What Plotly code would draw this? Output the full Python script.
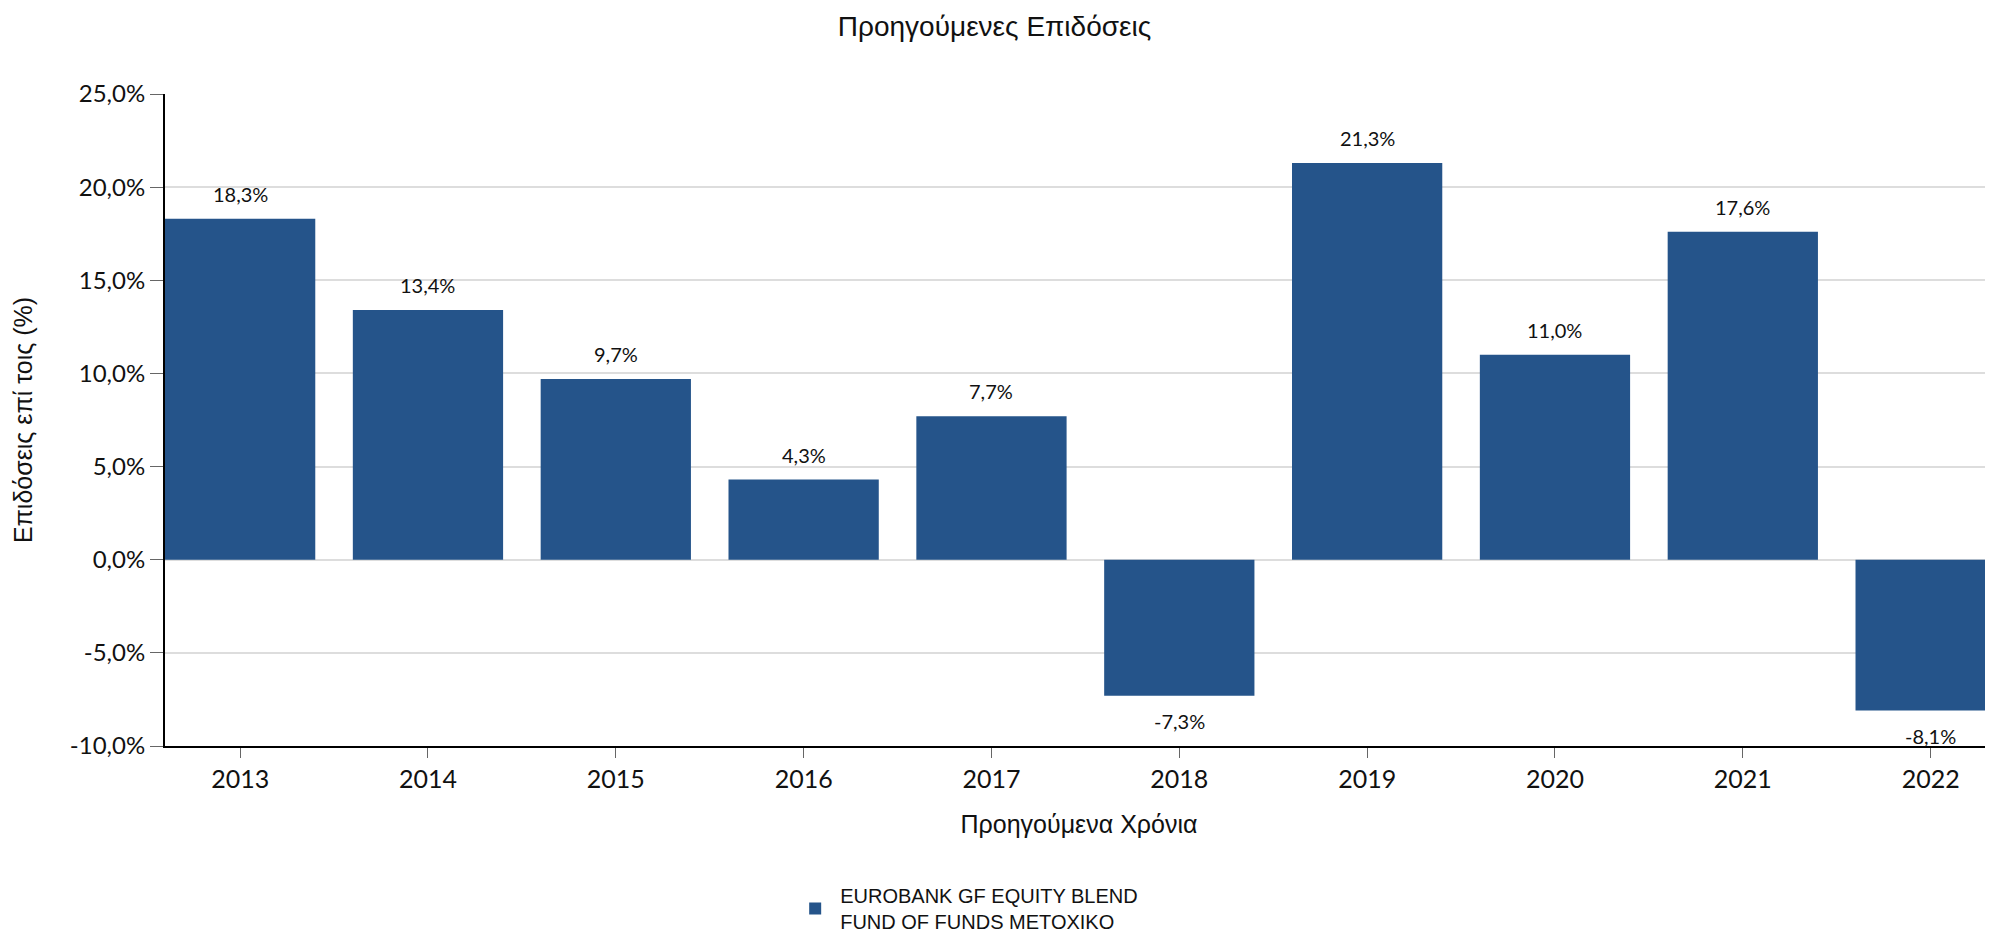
import plotly.graph_objects as go

years = ["2013", "2014", "2015", "2016", "2017", "2018", "2019", "2020", "2021", "2022"]
returns = [18.3, 13.4, 9.7, 4.3, 7.7, -7.3, 21.3, 11.0, 17.6, -8.1]
series_name = "EUROBANK GF EQUITY BLEND<br>FUND OF FUNDS METOXIKO"
title_text = "Προηγούμενες Επιδόσεις"
x_title = "Προηγούμενα Χρόνια"
y_title = "Επιδόσεις επί τοις (%)"
y_ticks = [-10, -5, 0, 5, 10, 15, 20, 25]


def pct(v):
    return f"{v:.1f}%".replace(".", ",")


BAR = "#25548A"
LBL_FONT = "Lato, 'Open Sans', sans-serif"
TXT_FONT = "'Liberation Sans', Arial, sans-serif"

# the page body adds an 8px offset; figure is sized to fit the window
W, H = 1985, 926

fig = go.Figure()
fig.add_trace(go.Bar(
    x=years, y=returns, name=series_name,
    marker=dict(color=BAR, line=dict(width=0)),
    showlegend=True,
))

for i, v in enumerate(returns):
    fig.add_annotation(
        x=i, y=v, xref="x", yref="y", text=pct(v),
        showarrow=False, yshift=25 if v >= 0 else -25,
        font=dict(family=LBL_FONT, size=20, color="#111"),
        xanchor="center", yanchor="middle",
    )

fig.update_layout(
    width=W, height=H,
    margin=dict(l=157, r=0, t=86, b=188, autoexpand=False),
    paper_bgcolor="white", plot_bgcolor="white",
    bargap=0.2,
    title=dict(text=title_text, x=0.497, xanchor="center", y=1 - 18 / H, yanchor="middle",
               font=dict(family=TXT_FONT, size=28, color="#111")),
    legend=dict(orientation="h", x=0.342, xanchor="left",
                yref="container", y=1 - 868 / H, yanchor="top",
                font=dict(family=TXT_FONT, size=20, color="#111"),
                itemwidth=40),
    showlegend=True,
)

fig.update_xaxes(
    type="category", range=[-0.4, 9.332],
    showline=True, linecolor="black", linewidth=2,
    ticks="outside", ticklen=10, tickcolor="#666", tickwidth=1,
    tickfont=dict(family=LBL_FONT, size=25, color="#111"),
    showgrid=False,
    title=dict(text=x_title, font=dict(family=TXT_FONT, size=25, color="#111"), standoff=23),
)
fig.update_yaxes(
    range=[-10, 25], tickvals=y_ticks, ticktext=[pct(t) for t in y_ticks],
    showline=True, linecolor="black", linewidth=2,
    ticks="outside", ticklen=13, tickcolor="#666", tickwidth=1,
    tickfont=dict(family=LBL_FONT, size=24, color="#111"),
    showgrid=True, gridcolor="#dddddd", gridwidth=2,
    zeroline=False,
    title=dict(text=y_title, font=dict(family=TXT_FONT, size=25, color="#111"), standoff=30),
)

fig.write_html("out.html")
